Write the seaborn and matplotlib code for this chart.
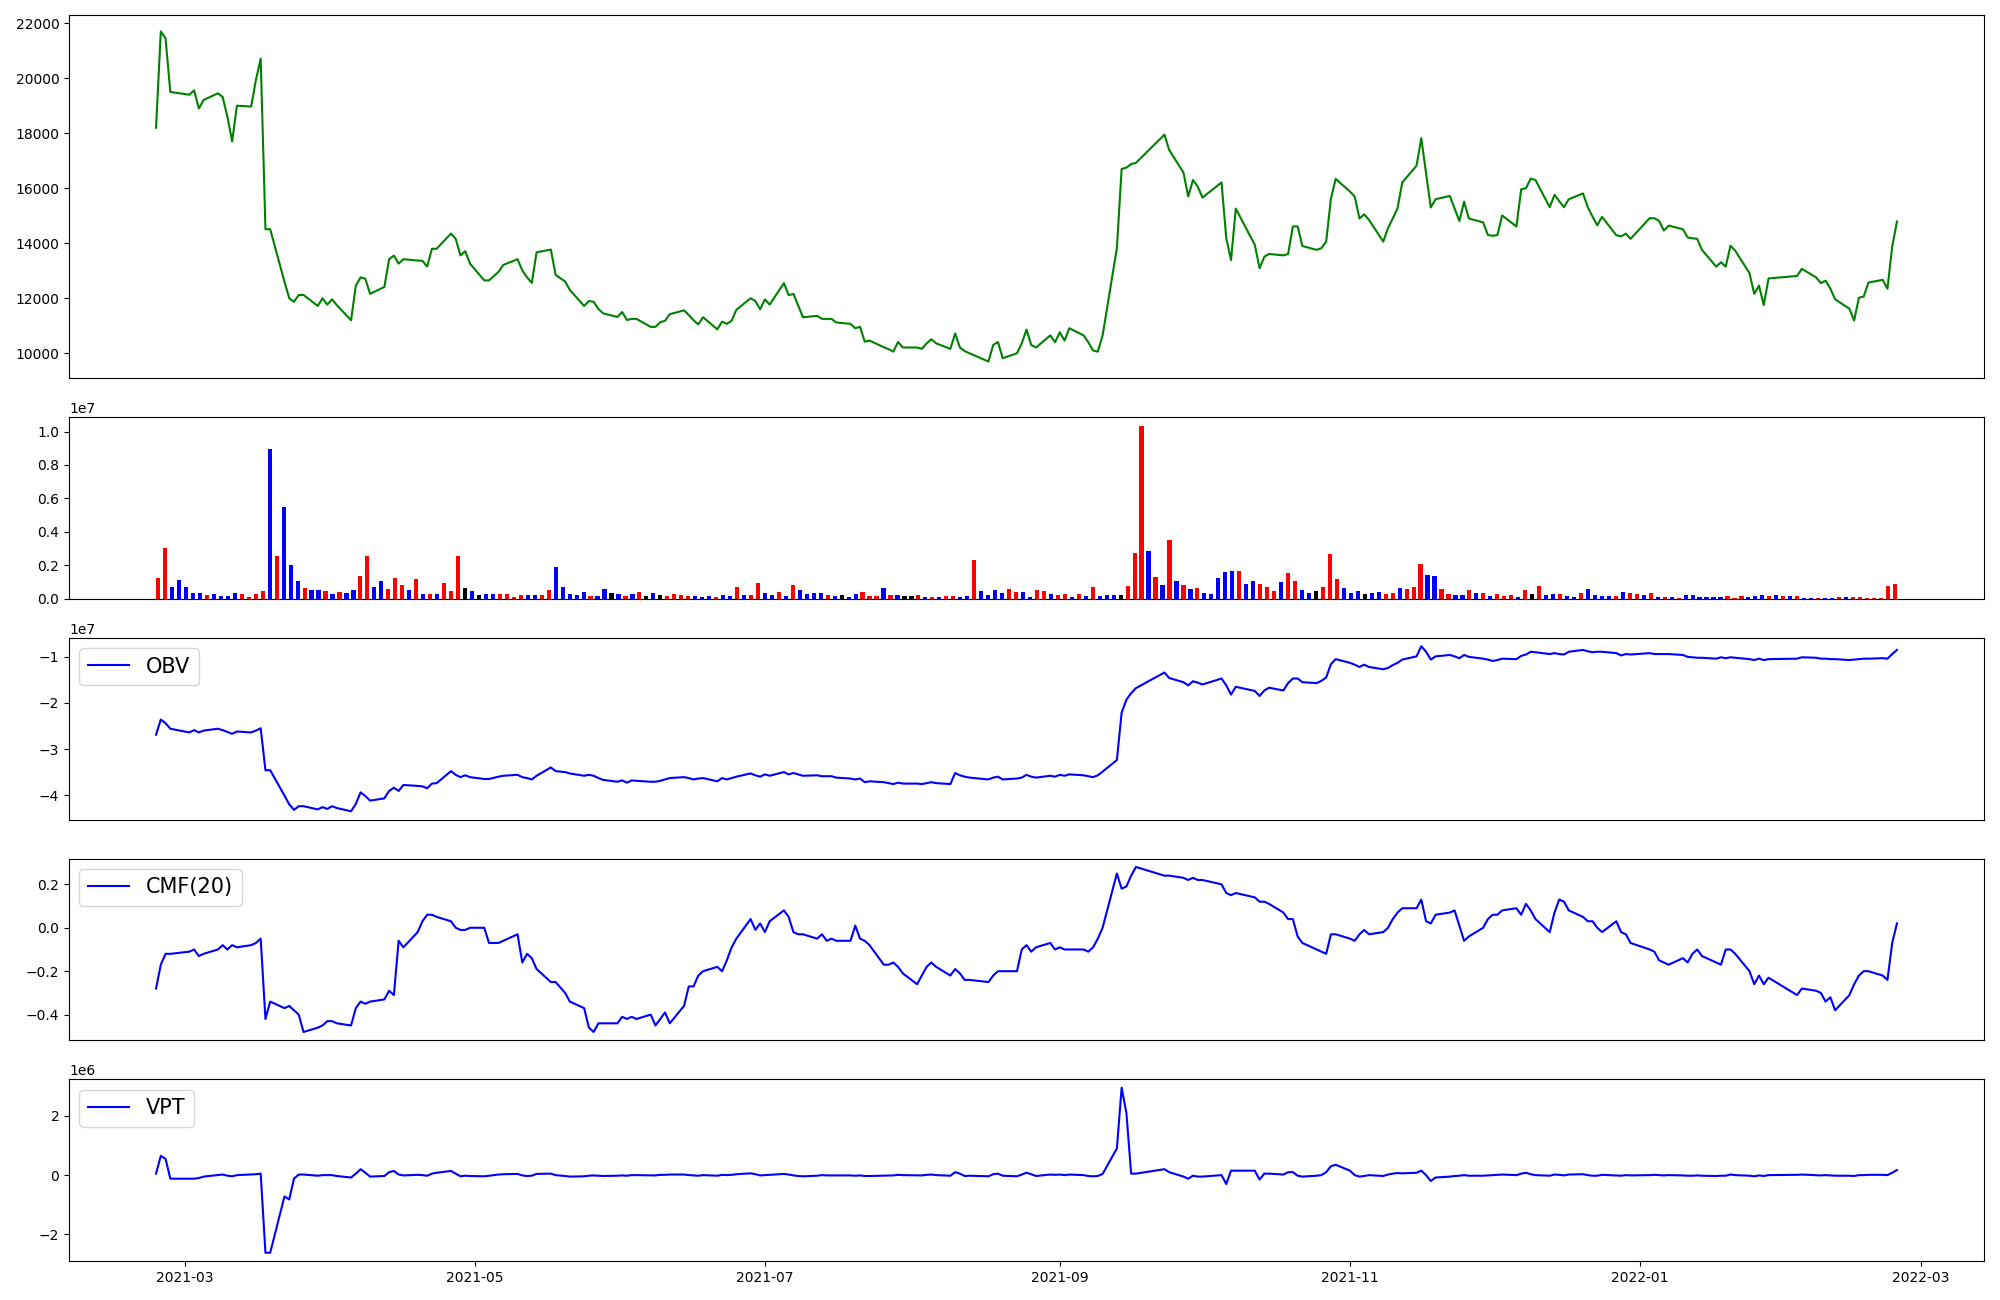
import matplotlib
matplotlib.use("Agg")
import matplotlib.pyplot as plt
import numpy as np
import pandas as pd
import seaborn as sns

# Korean market holidays in the period (no trading)
holidays = ["2021-03-01", "2021-05-05", "2021-05-19", "2021-08-16", "2021-09-20",
            "2021-09-21", "2021-09-22", "2021-10-04", "2021-10-11", "2021-12-31",
            "2022-01-31", "2022-02-01", "2022-02-02"]
dates = pd.bdate_range("2021-02-23", "2022-02-24")
dates = dates[~dates.isin(pd.to_datetime(holidays))]

close = [
    18200, 21700, 21450, 19500,
    19400, 19560, 18900, 19210, 19450, 19320, 18600, 17700, 19000, 18970, 19940, 20710,
    14510, 14510, 12600, 12000, 11870, 12120, 12120, 11720, 12000, 11770,
    11960, 11750, 11200, 12460, 12760, 12710, 12160, 12410, 13420, 13550, 13260, 13420,
    13370, 13360, 13150, 13800, 13800, 14350, 14160, 13560, 13710, 13260,
    12650, 12650, 12960, 13210, 13420, 13010, 12760, 12560, 13670, 13770, 12850, 12610,
    12300, 11720, 11900, 11870, 11610, 11450, 11320,
    11500, 11210, 11250, 11250, 10960, 10960, 11130, 11180, 11420, 11560, 11390, 11200,
    11050, 11310, 10870, 11150, 11070, 11180, 11580, 12000, 11900, 11600,
    11960, 11770, 12550, 12110, 12160, 11730, 11310, 11360, 11250, 11250, 11250, 11120,
    11070, 10910, 10960, 10420, 10460, 10220, 10150, 10060, 10410, 10210,
    10210, 10160, 10360, 10510, 10360, 10160, 10720, 10210, 10080, 10000, 9700, 10300,
    10410, 9820, 10000, 10360, 10860, 10300, 10210, 10650, 10400,
    10760, 10460, 10910, 10650, 10400, 10100, 10060, 10650, 13820, 16700, 16750, 16880,
    16920, 17950, 17390, 16570, 15700, 16300, 16060,
    15660, 16210, 14180, 13390, 15260, 13940, 13090, 13510, 13610, 13560, 13610, 14610,
    14610, 13900, 13760, 13820, 14060, 15620, 16340,
    15880, 15700, 14900, 15050, 14850, 14060, 14550, 14900, 15270, 16210, 16820, 17820,
    16540, 15300, 15600, 15720, 15270, 14810, 15510, 14900, 14760, 14300,
    14270, 14300, 15010, 14610, 15960, 16000, 16350, 16300, 15310, 15760, 15530, 15310,
    15600, 15810, 15310, 14970, 14650, 14960, 14290, 14250, 14350, 14160,
    14910, 14910, 14810, 14460, 14640, 14510, 14210, 14180, 14160, 13760, 13150, 13310,
    13150, 13910, 13730, 12910, 12160, 12460, 11750, 12720,
    12810, 13070, 12760, 12550, 12640, 12350, 11960, 11620, 11190, 12020, 12060, 12570,
    12670, 12350, 13880, 14790,
]

# daily volume in millions of shares
volume_m = [
    1.25, 3.05, 0.72, 1.14, 0.72, 0.36, 0.36, 0.24, 0.30, 0.18,
    0.18, 0.36, 0.30, 0.12, 0.30, 0.48, 8.96, 2.57, 5.50, 2.03,
    1.08, 0.66, 0.54, 0.54, 0.48, 0.30, 0.42, 0.36, 0.54, 1.37,
    2.57, 0.72, 1.08, 0.60, 1.25, 0.84, 0.54, 1.20, 0.30, 0.30,
    0.30, 0.96, 0.48, 2.57, 0.66, 0.48, 0.24, 0.30, 0.30, 0.30,
    0.30, 0.12, 0.24, 0.24, 0.24, 0.24, 0.54, 1.91, 0.72, 0.30,
    0.24, 0.42, 0.18, 0.18, 0.60, 0.36, 0.30, 0.18, 0.30, 0.42,
    0.18, 0.36, 0.24, 0.18, 0.30, 0.24, 0.18, 0.18, 0.12, 0.18,
    0.12, 0.24, 0.18, 0.72, 0.24, 0.24, 0.96, 0.36, 0.24, 0.42,
    0.18, 0.84, 0.54, 0.30, 0.36, 0.36, 0.24, 0.18, 0.24, 0.12,
    0.30, 0.42, 0.18, 0.18, 0.66, 0.24, 0.24, 0.18, 0.18, 0.24,
    0.12, 0.12, 0.12, 0.18, 0.18, 0.12, 0.18, 2.33, 0.48, 0.24,
    0.54, 0.36, 0.60, 0.42, 0.42, 0.12, 0.54, 0.48, 0.30, 0.24,
    0.30, 0.12, 0.30, 0.18, 0.72, 0.18, 0.24, 0.24, 0.24, 0.78,
    2.75, 10.34, 2.87, 1.31, 0.84, 3.53, 1.08, 0.84, 0.60, 0.66,
    0.36, 0.30, 1.25, 1.61, 1.67, 1.67, 0.90, 1.08, 0.90, 0.72,
    0.48, 1.02, 1.55, 1.08, 0.54, 0.36, 0.48, 0.72, 2.69, 1.20,
    0.66, 0.36, 0.48, 0.30, 0.36, 0.42, 0.30, 0.36, 0.66, 0.60,
    0.72, 2.09, 1.43, 1.37, 0.60, 0.30, 0.24, 0.24, 0.54, 0.36,
    0.36, 0.18, 0.30, 0.18, 0.24, 0.12, 0.54, 0.30, 0.78, 0.24,
    0.30, 0.30, 0.18, 0.12, 0.36, 0.60, 0.24, 0.18, 0.18, 0.18,
    0.42, 0.36, 0.30, 0.24, 0.36, 0.12, 0.12, 0.12, 0.06, 0.24,
    0.24, 0.12, 0.12, 0.12, 0.12, 0.18, 0.06, 0.18, 0.12, 0.18,
    0.24, 0.18, 0.24, 0.18, 0.18, 0.18, 0.06, 0.06, 0.06, 0.06,
    0.06, 0.12, 0.12, 0.12, 0.12, 0.06, 0.06, 0.06, 0.78, 0.90,
]

# candle direction per day: r = up, b = down, k = unchanged
direction = list(
    "rrbbbbbrbb" "bbrrrrbrbb" "brbbrbrbbr" "rbbrrrbrbr" "brrrkbkbbr"
    "rrrbbrrbbb" "bbrbbkbrbr" "kbkrrrrbbb" "rbbrbrrbbr" "brbbbbrbkb"
    "brrrbrbkkr" "brbrrbbrbb" "bbrrbbrrbr" "rbrbrbbbkr" "rrbrbrbrbr"
    "bbbbbrbbrr" "rbrrbbkrrr" "bbbkbbrrbr" "rrbbrrbbrb" "rbrrrbrkrb"
    "brbbrbbbbr" "brrbrbrbrb" "bbbbbrrrbb" "brbrbrbbrb" "brbrrrrrrr"
)

obv_e7 = [
    -2.69, -2.36, -2.44, -2.56,
    -2.64, -2.59, -2.64, -2.60, -2.56, -2.59, -2.63, -2.67, -2.62, -2.64, -2.60, -2.55,
    -3.46, -3.46, -4.01, -4.20, -4.32, -4.24, -4.24, -4.31, -4.26, -4.30,
    -4.24, -4.28, -4.35, -4.19, -3.94, -4.02, -4.12, -4.07, -3.91, -3.84, -3.91, -3.78,
    -3.80, -3.81, -3.85, -3.75, -3.74, -3.48, -3.56, -3.61, -3.57, -3.61,
    -3.65, -3.65, -3.60, -3.58, -3.56, -3.61, -3.63, -3.66, -3.58, -3.40, -3.48, -3.50,
    -3.53, -3.58, -3.56, -3.58, -3.63, -3.67, -3.71,
    -3.68, -3.73, -3.68, -3.69, -3.71, -3.71, -3.69, -3.66, -3.63, -3.61, -3.63, -3.66,
    -3.64, -3.63, -3.70, -3.63, -3.66, -3.63, -3.60, -3.53, -3.57, -3.60,
    -3.55, -3.58, -3.50, -3.55, -3.52, -3.55, -3.58, -3.57, -3.59, -3.59, -3.59, -3.62,
    -3.64, -3.66, -3.64, -3.72, -3.70, -3.72, -3.74, -3.76, -3.73, -3.75,
    -3.75, -3.76, -3.74, -3.72, -3.74, -3.76, -3.52, -3.57, -3.60, -3.62, -3.66, -3.62,
    -3.60, -3.66, -3.64, -3.62, -3.56, -3.60, -3.62, -3.58, -3.60,
    -3.56, -3.58, -3.55, -3.57, -3.59, -3.61, -3.57, -3.49, -3.24, -2.21, -1.93, -1.79,
    -1.68, -1.34, -1.46, -1.55, -1.62, -1.53, -1.56,
    -1.60, -1.47, -1.62, -1.82, -1.65, -1.74, -1.85, -1.73, -1.67, -1.73, -1.57, -1.47,
    -1.47, -1.55, -1.57, -1.52, -1.45, -1.16, -1.05,
    -1.13, -1.17, -1.22, -1.17, -1.22, -1.27, -1.24, -1.18, -1.13, -1.06, -0.99, -0.77,
    -0.89, -1.06, -0.99, -0.96, -0.99, -1.03, -0.96, -1.00, -1.04, -1.06,
    -1.09, -1.07, -1.04, -1.05, -0.98, -0.95, -0.89, -0.90, -0.94, -0.92, -0.94, -0.95,
    -0.89, -0.85, -0.88, -0.90, -0.89, -0.89, -0.92, -0.97, -0.94, -0.95,
    -0.92, -0.94, -0.94, -0.94, -0.94, -0.96, -1.00, -1.01, -1.02, -1.02, -1.04, -1.01,
    -1.03, -1.01, -1.02, -1.05, -1.07, -1.04, -1.07, -1.05,
    -1.04, -1.01, -1.02, -1.04, -1.04, -1.05, -1.05, -1.07, -1.06, -1.05, -1.04, -1.04,
    -1.03, -1.04, -0.94, -0.85,
]

cmf20 = [
    -0.28, -0.17, -0.12, -0.12,
    -0.11, -0.10, -0.13, -0.12, -0.10, -0.08, -0.10, -0.08, -0.09, -0.08, -0.07, -0.05,
    -0.42, -0.34, -0.37, -0.36, -0.38, -0.40, -0.48, -0.46, -0.45, -0.43,
    -0.43, -0.44, -0.45, -0.37, -0.34, -0.35, -0.34, -0.33, -0.29, -0.31, -0.06, -0.09,
    -0.02, 0.03, 0.06, 0.06, 0.05, 0.03, 0.00, -0.01, -0.01, 0.00,
    0.00, -0.07, -0.07, -0.06, -0.03, -0.16, -0.12, -0.14, -0.19, -0.25, -0.25, -0.30,
    -0.34, -0.37, -0.46, -0.48, -0.44, -0.44, -0.44,
    -0.41, -0.42, -0.41, -0.42, -0.40, -0.45, -0.42, -0.39, -0.44, -0.36, -0.27, -0.27,
    -0.22, -0.20, -0.18, -0.20, -0.15, -0.09, -0.05, 0.04, -0.01, 0.02,
    -0.02, 0.03, 0.08, 0.05, -0.02, -0.03, -0.03, -0.05, -0.03, -0.06, -0.05, -0.06,
    -0.06, 0.01, -0.05, -0.06, -0.08, -0.17, -0.17, -0.16, -0.18, -0.21,
    -0.26, -0.22, -0.18, -0.16, -0.18, -0.22, -0.19, -0.21, -0.24, -0.24, -0.25, -0.22,
    -0.20, -0.20, -0.20, -0.10, -0.08, -0.11, -0.09, -0.07, -0.10,
    -0.09, -0.10, -0.10, -0.10, -0.11, -0.09, -0.05, 0.00, 0.25, 0.18, 0.19, 0.24,
    0.28, 0.24, 0.24, 0.23, 0.22, 0.23, 0.22,
    0.22, 0.20, 0.16, 0.15, 0.16, 0.14, 0.12, 0.12, 0.11, 0.07, 0.04, 0.04,
    -0.04, -0.07, -0.10, -0.11, -0.12, -0.03, -0.03,
    -0.05, -0.06, -0.03, -0.01, -0.03, -0.02, 0.00, 0.04, 0.07, 0.09, 0.09, 0.13,
    0.03, 0.02, 0.06, 0.07, 0.08, 0.01, -0.06, -0.04, 0.00, 0.04,
    0.06, 0.06, 0.08, 0.09, 0.06, 0.11, 0.08, 0.04, -0.02, 0.07, 0.13, 0.12,
    0.08, 0.05, 0.03, 0.03, 0.00, -0.02, 0.03, -0.02, -0.03, -0.07,
    -0.10, -0.11, -0.15, -0.16, -0.17, -0.14, -0.16, -0.12, -0.10, -0.13, -0.16, -0.17,
    -0.10, -0.10, -0.12, -0.20, -0.26, -0.22, -0.26, -0.23,
    -0.31, -0.28, -0.29, -0.30, -0.34, -0.32, -0.38, -0.31, -0.26, -0.22, -0.20, -0.20,
    -0.22, -0.24, -0.07, 0.02,
]

vpt_e6 = [
    0.05, 0.65, 0.55, -0.12,
    -0.12, -0.12, -0.10, -0.05, 0.00, 0.02, -0.02, -0.04, 0.00, 0.02, 0.03, 0.05,
    -2.62, -2.62, -0.72, -0.82, -0.12, 0.02, 0.02, -0.02, 0.00, 0.00,
    0.00, -0.03, -0.08, 0.05, 0.20, 0.08, -0.05, -0.03, 0.10, 0.14, 0.02, -0.01,
    0.01, 0.00, -0.02, 0.05, 0.08, 0.14, 0.05, -0.04, -0.02, -0.03,
    -0.04, -0.02, 0.02, 0.03, 0.04, -0.01, -0.03, -0.02, 0.04, 0.05, 0.00, -0.03,
    -0.05, -0.04, -0.02, -0.01, -0.02, -0.03, -0.02,
    -0.01, -0.02, 0.00, 0.00, -0.01, -0.01, 0.01, 0.01, 0.02, 0.02, 0.00, -0.01,
    -0.02, 0.00, -0.02, 0.01, 0.00, 0.01, 0.03, 0.06, 0.03, -0.01,
    0.00, 0.01, 0.04, 0.02, -0.01, -0.03, -0.04, -0.02, 0.00, -0.01, -0.01, -0.01,
    -0.01, -0.02, -0.01, -0.03, -0.03, -0.02, -0.02, -0.01, 0.01, 0.00,
    -0.01, -0.01, 0.01, 0.02, 0.00, -0.02, 0.10, 0.05, -0.03, -0.02, -0.04, 0.03,
    0.05, -0.02, -0.04, 0.02, 0.08, 0.03, -0.03, 0.02, 0.01,
    0.02, 0.00, 0.02, 0.00, -0.03, -0.04, -0.03, 0.04, 0.90, 2.95, 2.10, 0.05,
    0.05, 0.20, 0.10, -0.05, -0.12, -0.02, -0.05,
    -0.05, 0.00, -0.30, 0.15, 0.15, 0.15, -0.15, 0.05, 0.05, 0.02, 0.10, 0.10,
    -0.02, -0.05, -0.02, 0.00, 0.10, 0.30, 0.35,
    0.15, 0.00, -0.05, -0.03, 0.00, -0.03, 0.02, 0.05, 0.07, 0.06, 0.08, 0.15,
    0.00, -0.20, -0.08, -0.05, -0.03, -0.02, 0.00, -0.02, -0.02, -0.01,
    0.00, 0.01, 0.02, 0.00, 0.05, 0.08, 0.03, 0.00, -0.02, 0.02, 0.01, -0.01,
    0.02, 0.03, 0.00, -0.02, -0.02, 0.01, -0.01, -0.02, 0.00, -0.01,
    0.00, 0.01, 0.00, -0.01, 0.00, -0.01, -0.02, -0.02, -0.01, -0.02, -0.03, -0.02,
    -0.02, 0.02, 0.00, -0.02, -0.04, -0.01, -0.03, 0.00,
    0.01, 0.02, 0.00, -0.01, 0.00, -0.01, -0.02, -0.02, -0.03, 0.00, 0.00, 0.01,
    0.01, 0.00, 0.08, 0.17,
]

n = len(dates)
for name, arr in [("close", close), ("volume", volume_m), ("direction", direction),
                  ("obv", obv_e7), ("cmf", cmf20), ("vpt", vpt_e6)]:
    assert len(arr) == n, f"{name}: {len(arr)} != {n}"

df = pd.DataFrame({
    "date": dates,
    "close": close,
    "volume": np.array(volume_m) * 1e6,
    "direction": direction,
    "obv": np.array(obv_e7) * 1e7,
    "cmf": cmf20,
    "vpt": np.array(vpt_e6) * 1e6,
    "day": np.arange(n),
})

fig = plt.figure(figsize=(20, 13), dpi=100)
gs = fig.add_gridspec(5, 1, height_ratios=[2, 1, 1, 1, 1], left=0.0345, right=0.992,
                      top=0.9885, bottom=0.03, hspace=0.18)
ax_price = fig.add_subplot(gs[0])
ax_vol = fig.add_subplot(gs[1])
ax_obv = fig.add_subplot(gs[2], sharex=ax_price)
ax_cmf = fig.add_subplot(gs[3], sharex=ax_price)
ax_vpt = fig.add_subplot(gs[4], sharex=ax_price)

sns.lineplot(data=df, x="date", y="close", color="green", ax=ax_price)

# volume bars sit on a plain day index, so they are evenly spaced (no weekend gaps)
sns.barplot(data=df, x="day", y="volume", hue="direction",
            palette={"r": "red", "b": "blue", "k": "black"}, saturation=1, dodge=False,
            width=0.6, native_scale=True, errorbar=None, legend=False, ax=ax_vol)
span = n - 1 + 0.6
ax_vol.set_xlim(-0.3 - 0.05 * span, n - 1 + 0.3 + 0.05 * span)
ax_vol.set_xticks([])

sns.lineplot(data=df, x="date", y="obv", color="blue", label="OBV", ax=ax_obv)
sns.lineplot(data=df, x="date", y="cmf", color="blue", label="CMF(20)", ax=ax_cmf)
sns.lineplot(data=df, x="date", y="vpt", color="blue", label="VPT", ax=ax_vpt)

for ax in [ax_obv, ax_cmf, ax_vpt]:
    ax.legend(loc="upper left", fontsize=15)

for ax in [ax_price, ax_obv, ax_cmf]:
    ax.tick_params(axis="x", bottom=False, labelbottom=False)

for ax in [ax_price, ax_vol, ax_obv, ax_cmf, ax_vpt]:
    ax.set(xlabel="", ylabel="")

fig.savefig("out.png", dpi=100)
